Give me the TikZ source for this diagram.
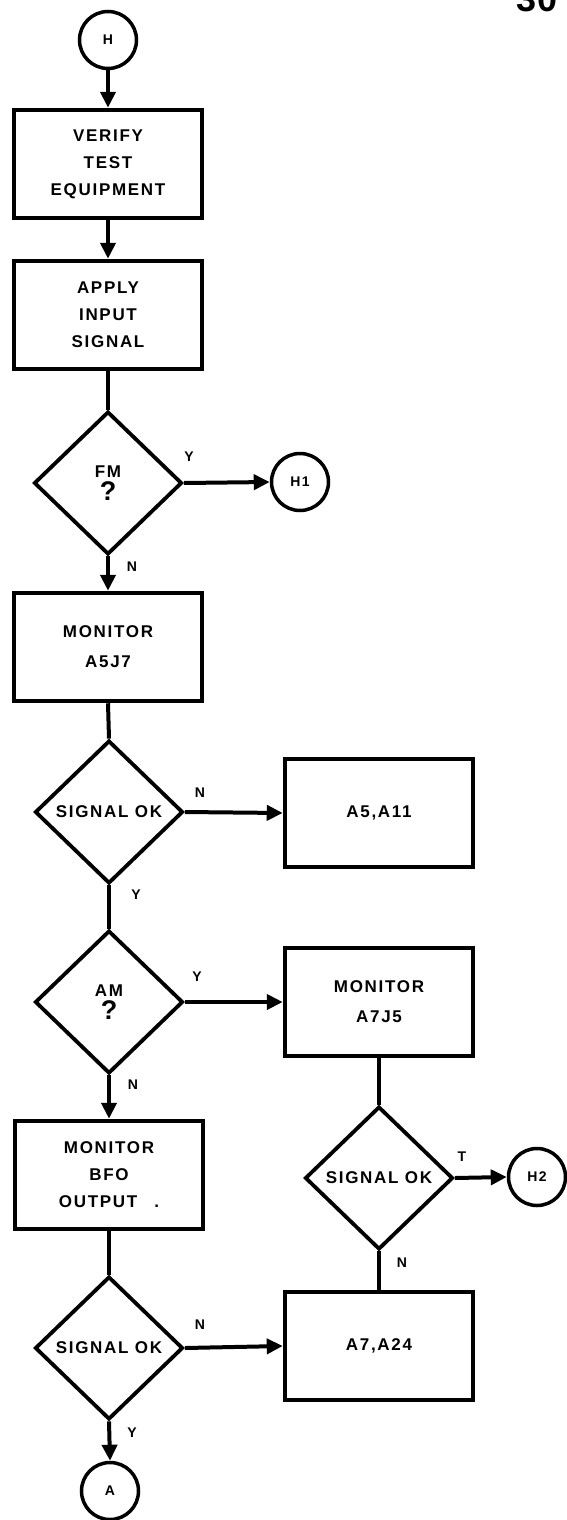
\documentclass[tikz,border=0pt]{standalone}
\usepackage{fontspec}
\setmainfont{Liberation Sans}
\newfontfamily\lbl[LetterSpace=10]{Liberation Sans}
\newcommand\boxfont{\lbl\bfseries\fontsize{17}{27}\selectfont}
\newcommand\qmark{\bfseries\fontsize{27}{27}\selectfont ?}
\usetikzlibrary{shapes.geometric,arrows.meta}
\begin{document}
\begin{tikzpicture}[x=1pt,y=-1pt,
  box/.style={draw,line width=4.5pt,minimum width=188pt,minimum height=108pt,inner sep=0pt,align=center,font=\boxfont},
  dec/.style={draw,diamond,line width=3.8pt,minimum width=148pt,minimum height=143pt,inner sep=0pt,align=center,font=\boxfont},
  conn/.style={draw,circle,line width=3.5pt,minimum size=57pt,inner sep=0pt,font=\lbl\bfseries\fontsize{14}{14}\selectfont},
  flow/.style={line width=4pt},
  arr/.style={flow,-{Triangle[length=16pt,width=15pt]}},
  yn/.style={font=\lbl\bfseries\fontsize{14}{14}\selectfont,inner sep=0pt}
]
\useasboundingbox (0,0) rectangle (566,1520);
% page number
\node[font=\bfseries\fontsize{36}{36}\selectfont,anchor=base,inner sep=0pt] (pg) at (537,12) {30};
% left column
\node[conn] (H) at (108,40) {H};
\node[box] (v1) at (108,164) {VERIFY\\TEST\\EQUIPMENT};
\node[box] (v2) at (108,315) {APPLY\\INPUT\\SIGNAL};
\node[dec] (d1) at (108,483) {FM\\[-4pt]\qmark};
\node[conn] (H1) at (300,482) {H1};
\node[box] (b3) at (108,647) {MONITOR\\[3pt]A5J7};
\node[dec] (d2) at (109,812) {SIGNAL OK};
\node[box] (b4) at (379,813) {A5,A11};
\node[dec] (d3) at (109,1002) {AM\\[-4pt]\qmark};
\node[box] (b5) at (379,1002) {MONITOR\\[3pt]A7J5};
\node[box] (b6) at (109,1175) {MONITOR\\BFO\\OUTPUT\quad.};
\node[dec] (d4) at (379,1178) {SIGNAL OK};
\node[conn] (H2) at (537,1177) {H2};
\node[dec] (d5) at (109,1348) {SIGNAL OK};
\node[box] (b7) at (379,1346) {A7,A24};
\node[conn] (A) at (110,1491) {A};
% connectors
\draw[arr] (H) -- (v1);
\draw[arr] (v1) -- (v2);
\draw[flow] (v2) -- (d1);
\draw[arr] (d1.east) -- (H1.west);
\draw[arr] (d1.south) -- (b3.north);
\draw[flow] (b3.south) -- (d2.north);
\draw[arr] (d2.east) -- (b4.west);
\draw[flow] (d2.south) -- (d3.north);
\draw[arr] (d3.east) -- (b5.west);
\draw[arr] (d3.south) -- (b6.north);
\draw[flow] (b5.south) -- (d4.north);
\draw[arr] (d4.east) -- (H2.west);
\draw[flow] (d4.south) -- (b7.north);
\draw[flow] (b6.south) -- (d5.north);
\draw[arr] (d5.east) -- (b7.west);
\draw[arr] (d5.south) -- (A.north);
% branch labels
\node[yn] (l1) at (189,457) {Y};
\node[yn] (l2) at (132,567) {N};
\node[yn] (l3) at (200,793) {N};
\node[yn] (l4) at (136,895) {Y};
\node[yn] (l5) at (197,977) {Y};
\node[yn] (l6) at (133,1085) {N};
\node[yn] (l7) at (462,1157) {T};
\node[yn] (l8) at (402,1263) {N};
\node[yn] (l9) at (200,1325) {N};
\node[yn] (l10) at (132,1433) {Y};
\end{tikzpicture}
\end{document}
